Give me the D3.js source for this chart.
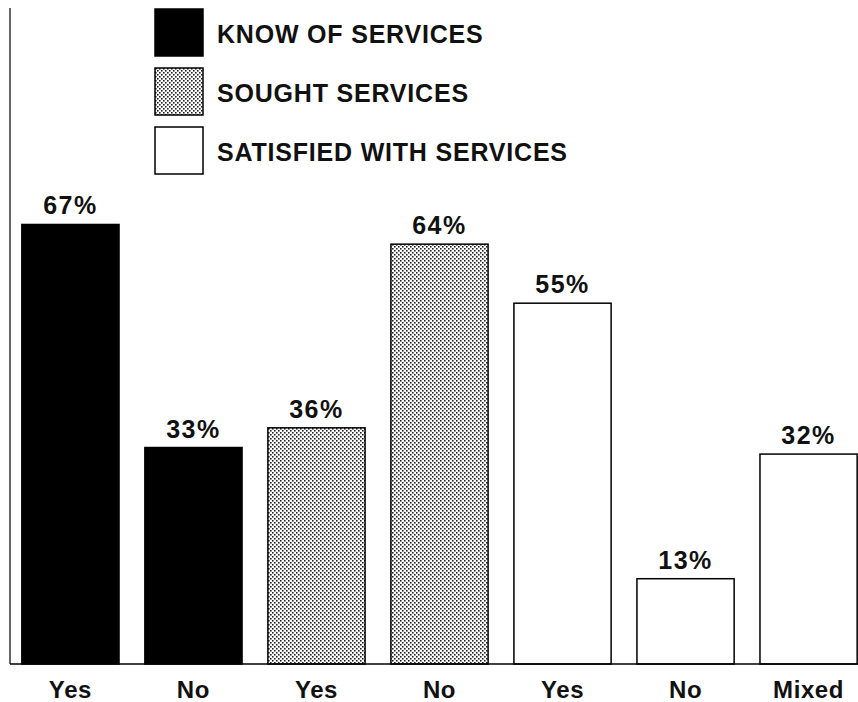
<!DOCTYPE html>
<html>
<head>
<meta charset="utf-8">
<script src="https://cdn.jsdelivr.net/npm/d3@7"></script>
<style>
  html, body { margin: 0; padding: 0; background: #fff; }
  svg { display: block; }
  text { font-family: "Liberation Sans", Arial, Helvetica, sans-serif; font-weight: bold; fill: #111; }
</style>
</head>
<body>
<svg id="chart" width="858" height="702"></svg>
<script>
// Survey responses by question
const categories = ["Yes", "No", "Yes", "No", "Yes", "No", "Mixed"];
const groups = ["know", "know", "sought", "sought", "satisfied", "satisfied", "satisfied"];
const values = [67, 33, 36, 64, 55, 13, 32];

const seriesKeys = ["know", "sought", "satisfied"];
const seriesNames = ["KNOW OF SERVICES", "SOUGHT SERVICES", "SATISFIED WITH SERVICES"];

const svg = d3.select("#chart");

// stippled fill for the "sought" series
const defs = svg.append("defs");
const pat = defs.append("pattern")
  .attr("id", "stipple")
  .attr("patternUnits", "userSpaceOnUse")
  .attr("width", 4).attr("height", 4);
pat.append("rect").attr("width", 4).attr("height", 4).attr("fill", "#fff");
pat.append("rect").attr("x", 0).attr("y", 0).attr("width", 1.6).attr("height", 1.6).attr("fill", "#222");
pat.append("rect").attr("x", 2).attr("y", 2).attr("width", 1.6).attr("height", 1.6).attr("fill", "#222");

const fills = { know: "#000", sought: "url(#stipple)", satisfied: "#fff" };

const x = d3.scaleBand()
  .domain(d3.range(values.length))
  .range([12, 867])
  .paddingInner(0.21)
  .paddingOuter(0.08);

const y = d3.scaleLinear().domain([0, 100]).range([664, 8]);

// bars
svg.append("g").selectAll("rect")
  .data(values)
  .join("rect")
  .attr("x", (d, i) => x(i))
  .attr("y", d => y(d))
  .attr("width", x.bandwidth())
  .attr("height", d => y(0) - y(d))
  .attr("fill", (d, i) => fills[groups[i]])
  .attr("stroke", "#000")
  .attr("stroke-width", 1.5);

// value labels
svg.append("g").selectAll("text")
  .data(values)
  .join("text")
  .attr("x", (d, i) => x(i) + x.bandwidth() / 2)
  .attr("y", d => y(d) - 10)
  .attr("text-anchor", "middle")
  .attr("font-size", 25)
  .attr("letter-spacing", 1.5)
  .text(d => d + "%");

// left axis line
svg.append("line")
  .attr("x1", 10).attr("x2", 10)
  .attr("y1", y(100)).attr("y2", y(0))
  .attr("stroke", "#333").attr("stroke-width", 1.5);

// baseline with category labels
const xAxis = d3.axisBottom(x)
  .tickSize(0)
  .tickPadding(0)
  .tickFormat(i => categories[i]);

const gx = svg.append("g")
  .attr("transform", `translate(0,${y(0)})`)
  .call(xAxis);
gx.select(".domain").remove();
gx.selectAll("text")
  .attr("dy", null)
  .attr("y", 34)
  .attr("font-size", 24)
  .attr("letter-spacing", 0.6)
  .style("font-family", "\"Liberation Sans\", Arial, sans-serif")
  .style("font-weight", "bold")
  .attr("fill", "#111");

svg.append("line")
  .attr("x1", 10).attr("x2", 858)
  .attr("y1", y(0)).attr("y2", y(0))
  .attr("stroke", "#000").attr("stroke-width", 1.5);

// legend
const legendY = d3.scalePoint().domain(seriesKeys).range([9, 127]);
const legend = svg.append("g").selectAll("g")
  .data(seriesKeys)
  .join("g")
  .attr("transform", d => `translate(155,${legendY(d)})`);

legend.append("rect")
  .attr("width", 48).attr("height", 47)
  .attr("fill", d => fills[d])
  .attr("stroke", "#000").attr("stroke-width", 1.5);

legend.append("text")
  .attr("x", 62)
  .attr("y", 34)
  .attr("font-size", 25)
  .attr("letter-spacing", 0.8)
  .text((d, i) => seriesNames[i]);
</script>
</body>
</html>
